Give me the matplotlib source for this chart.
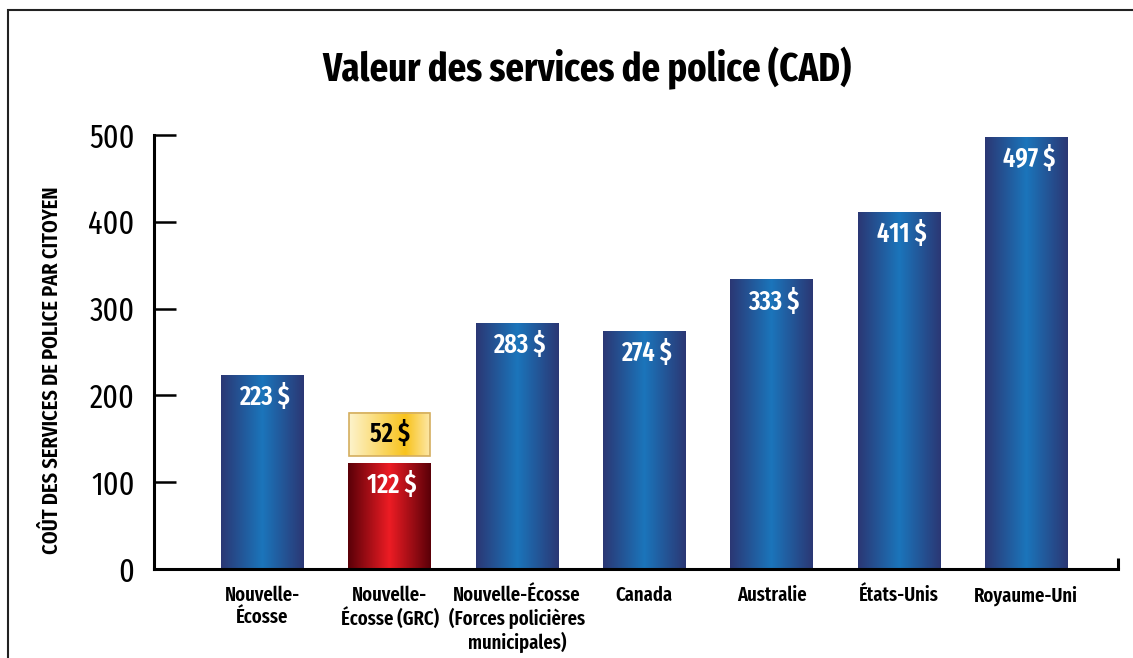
import numpy as np
import matplotlib.pyplot as plt
from matplotlib.colors import LinearSegmentedColormap
from matplotlib.patches import Rectangle

plt.rcParams['font.family'] = ['Fira Sans Condensed', 'DejaVu Sans']
plt.rcParams['font.stretch'] = 'condensed'
narrow = ['Fira Sans Extra Condensed', 'Fira Sans Condensed', 'DejaVu Sans']

categories = ['Nouvelle-\nÉcosse', 'Nouvelle-\nÉcosse (GRC)',
              'Nouvelle-Écosse\n(Forces policières\nmunicipales)',
              'Canada', 'Australie', 'États-Unis', 'Royaume-Uni']
values = [223, 122, 283, 274, 333, 411, 497]
bar_kind = ['blue', 'red', 'blue', 'blue', 'blue', 'blue', 'blue']
extra_value = 52          # floating box above the GRC bar
extra_bottom = 130
yticks = [0, 100, 200, 300, 400, 500]

cmaps = {
    'blue': LinearSegmentedColormap.from_list('b', ['#2b3774', '#1b75bb', '#2b3774']),
    'red': LinearSegmentedColormap.from_list('r', ['#5a0008', '#ed1c24', '#5a0008']),
    'gold': LinearSegmentedColormap.from_list('g', [(0, '#fdf3cc'), (0.7, '#f8c31c'), (1, '#fde7a6')]),
}
grad = np.linspace(0, 1, 256).reshape(1, -1)

fig = plt.figure(figsize=(11.33, 6.58), dpi=100)
ax = fig.add_axes([154 / 1133, 89 / 658, 964 / 1133, 434 / 658])

x = np.arange(len(categories))
bars = ax.bar(x, values, width=0.65, color='none', edgecolor='none')
for b, kind, v in zip(bars, bar_kind, values):
    x0, w, h = b.get_x(), b.get_width(), b.get_height()
    ax.imshow(grad, cmap=cmaps[kind], extent=[x0, x0 + w, 0, h], aspect='auto', zorder=2)
    ax.text(x0 + w / 2 + 0.02, h - 25, f'{v} $', ha='center', va='center', color='white',
            fontsize=19, fontweight='semibold', family=narrow, zorder=3)

# floating box for the GRC extra amount
gb = bars[1]
gx0, gw = gb.get_x() + 0.01, gb.get_width() - 0.02
ax.imshow(grad, cmap=cmaps['gold'], extent=[gx0, gx0 + gw, extra_bottom, extra_bottom + extra_value - 2],
          aspect='auto', zorder=2)
ax.add_patch(Rectangle((gx0, extra_bottom), gw, extra_value - 2, facecolor='none',
                       edgecolor='#d4ae5f', lw=1.2, zorder=3))
ax.text(gx0 + gw / 2, extra_bottom + extra_value / 2 - 1, f'{extra_value} $', ha='center', va='center',
        color='black', fontsize=19, fontweight='semibold', family=narrow, zorder=4)

ax.set_xlim(-0.85, 6.72)
ax.set_ylim(0, 500)
ax.set_yticks(yticks)
ax.set_xticks(x)
ax.set_xticklabels(categories, fontsize=14.5, fontweight='semibold', linespacing=1.15, family=narrow)
ax.set_yticklabels([str(t) for t in yticks], fontsize=23.5, family=narrow)
ax.tick_params(axis='x', length=0, pad=12)
ax.tick_params(axis='y', direction='in', length=16, width=1.8, pad=14)
for s in ['top', 'right']:
    ax.spines[s].set_visible(False)
for s in ['left', 'bottom']:
    ax.spines[s].set_linewidth(2.2)
ax.plot([1, 1], [0, 0.025], transform=ax.transAxes, color='black', lw=2.2, clip_on=False,
        solid_capstyle='butt')

ax.set_ylabel('COÛT DES SERVICES DE POLICE PAR CITOYEN', fontsize=16, fontweight='semibold', family=narrow)
ax.yaxis.set_label_coords(-0.0954, 0.4585)

fig.text(587 / 1133, 1 - 68 / 658, 'Valeur des services de police (CAD)', ha='center', va='center',
         fontsize=28.5, fontweight='bold', family=narrow)

# outer frame
fig.patches.append(Rectangle((8 / 1133, -0.1), 1.2, 1 - 10 / 658 + 0.1, transform=fig.transFigure,
                             facecolor='none', edgecolor='#222222', lw=1.5))

fig.savefig('out.png', dpi=100)
